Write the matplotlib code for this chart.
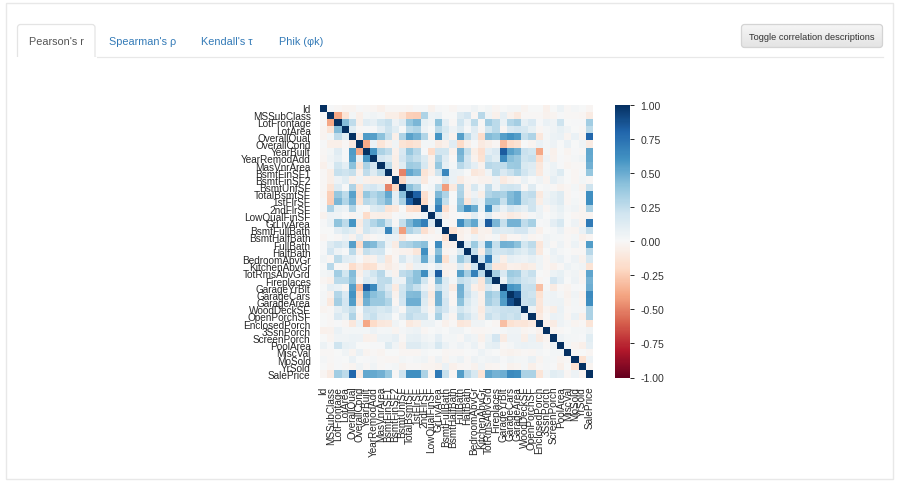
import matplotlib
matplotlib.use("Agg")
import matplotlib.pyplot as plt
from matplotlib.patches import FancyBboxPatch, Rectangle
import numpy as np

plt.rcParams["font.family"] = ["Liberation Sans", "DejaVu Sans"]

W, H = 900, 485

labels = ["Id", "MSSubClass", "LotFrontage", "LotArea", "OverallQual", "OverallCond", "YearBuilt",
          "YearRemodAdd", "MasVnrArea", "BsmtFinSF1", "BsmtFinSF2", "BsmtUnfSF", "TotalBsmtSF",
          "1stFlrSF", "2ndFlrSF", "LowQualFinSF", "GrLivArea", "BsmtFullBath", "BsmtHalfBath",
          "FullBath", "HalfBath", "BedroomAbvGr", "KitchenAbvGr", "TotRmsAbvGrd", "Fireplaces",
          "GarageYrBlt", "GarageCars", "GarageArea", "WoodDeckSF", "OpenPorchSF", "EnclosedPorch",
          "3SsnPorch", "ScreenPorch", "PoolArea", "MiscVal", "MoSold", "YrSold", "SalePrice"]
tabs = ["Pearson's r", "Spearman's ρ", "Kendall's τ", "Phik (φk)"]
button_text = "Toggle correlation descriptions"
cbar_ticks = [-1.0, -0.75, -0.5, -0.25, 0.0, 0.25, 0.5, 0.75, 1.0]

# upper triangle, each row starts right after the diagonal
r_id = [.01, -.01, -.03, -.03, .01, -.01, -.02, -.05, -.01, -.01, -.01, -.02, .01, .01, -.04, .01, .00, -.02, .01, .01, .04, .00, .03, -.02, .00, .02, .02, -.03, .00, .00, -.05, .00, .06, -.01, .02, .00, -.02]
r_mssub = [-.39, -.14, .03, -.06, .03, .04, .02, -.07, -.07, -.14, -.24, -.25, .31, .05, .07, .00, .00, .13, .18, -.02, .28, .04, -.05, .09, -.04, -.10, -.01, -.01, -.01, -.04, -.03, .01, -.01, -.01, -.02, -.08]
r_lotfr = [.43, .25, -.06, .12, .09, .19, .23, .05, .13, .39, .46, .08, .04, .40, .10, -.01, .20, .05, .26, -.01, .35, .27, .07, .29, .34, .09, .15, .01, .07, .04, .21, .00, .01, .01, .35]
r_lotar = [.11, -.01, .01, .01, .10, .21, .11, .00, .26, .30, .05, .00, .26, .16, .05, .13, .01, .12, -.02, .19, .27, -.02, .15, .18, .17, .08, -.02, .02, .04, .08, .04, .00, -.01, .26]
r_oqual = [-.09, .57, .55, .41, .24, -.06, .31, .54, .48, .30, -.03, .59, .11, -.04, .55, .27, .10, -.18, .43, .40, .55, .60, .56, .24, .31, -.11, .03, .06, .07, -.03, .07, -.03, .79]
r_ocond = [-.38, .07, -.13, -.05, .04, -.14, -.17, -.14, .03, .03, -.08, -.05, .12, -.19, -.06, .01, -.09, -.06, -.02, -.32, -.19, -.15, .00, -.03, .07, .03, .05, .00, .07, .00, .04, -.08]
r_ybuilt = [.59, .32, .25, -.05, .15, .39, .28, .01, -.18, .20, .19, -.04, .47, .24, -.07, -.17, .10, .15, .83, .54, .48, .22, .19, -.39, .03, -.05, .00, -.03, .01, -.01, .52]
r_yremod = [.18, .13, -.07, .18, .29, .24, .14, -.06, .29, .12, -.01, .44, .18, -.04, -.15, .19, .11, .64, .42, .37, .21, .23, -.19, .05, -.04, .01, -.01, .02, .04, .51]
r_masvnr = [.26, -.07, .11, .36, .34, .17, -.07, .39, .09, .03, .28, .20, .10, -.04, .28, .25, .25, .36, .37, .16, .13, -.11, .02, .06, .01, -.03, -.01, -.01, .48]
r_fin1 = [-.05, -.50, .52, .45, -.14, -.06, .21, .65, .07, .06, .00, -.11, -.08, .04, .26, .15, .22, .30, .20, .11, -.10, .03, .06, .14, .00, -.02, .01, .39]
r_fin2 = [-.21, .10, .10, -.10, .01, -.01, .16, .07, -.08, -.03, -.02, -.04, -.04, .05, -.09, -.04, -.02, .07, .00, .04, -.03, .09, .04, .00, -.02, .03, -.01]
r_unf = [.42, .32, .00, .03, .24, -.42, -.10, .29, -.04, .17, .03, .25, .05, .19, .21, .18, -.01, .13, .00, .02, -.01, -.04, -.02, .03, -.04, .21]
r_totb = [.82, -.17, -.03, .45, .31, .00, .32, -.05, .05, -.07, .29, .34, .32, .43, .49, .23, .25, -.10, .04, .08, .13, -.02, .01, -.01, .61]
r_first = [-.20, -.01, .57, .24, .00, .38, -.12, .13, .07, .41, .41, .23, .44, .49, .24, .21, -.07, .06, .09, .13, -.02, .03, -.01, .61]
r_second = [.06, .69, -.17, -.02, .42, .61, .50, .06, .62, .19, .07, .18, .14, .09, .21, .06, -.02, .04, .08, .02, .04, -.03, .32]
r_lowq = [.13, -.05, -.01, .00, -.03, .11, .01, .13, -.02, -.04, -.09, -.07, -.03, .02, .06, .00, .03, .06, .00, -.02, -.03, -.03]
r_grliv = [.03, -.02, .63, .42, .52, .10, .83, .46, .23, .47, .47, .25, .33, .01, .02, .10, .17, .00, .05, -.04, .71]
r_bfull = [-.15, -.06, -.03, -.15, -.04, -.05, .14, .12, .13, .18, .18, .07, -.05, .00, .02, .07, -.02, -.03, .07, .23]
r_bhalf = [-.05, -.01, .05, -.04, -.02, .03, -.08, -.02, -.02, .04, -.03, -.01, .04, .03, .02, -.01, .03, -.05, -.02]
r_full = [.14, .36, .13, .55, .24, .48, .47, .41, .19, .26, -.12, .04, -.01, .05, -.01, .06, -.02, .56]
r_half = [.23, -.07, .34, .20, .20, .22, .16, .11, .20, -.10, .00, .07, .02, .00, -.01, -.01, .28]
r_bed = [.20, .68, .11, -.06, .09, .07, .05, .09, .04, -.02, .04, .07, .01, .05, -.04, .17]
r_kit = [.26, -.12, -.12, -.05, -.06, -.09, -.07, .04, -.02, -.05, -.01, .06, .03, .04, -.14]
r_rooms = [.33, .15, .36, .34, .17, .23, .00, -.01, .06, .08, .02, .04, -.03, .53]
r_fire = [.05, .30, .27, .20, .17, -.02, .01, .18, .10, .00, .05, -.02, .47]
r_gyb = [.59, .56, .22, .23, -.30, .02, -.08, -.01, -.03, .01, .00, .49]
r_gcars = [.88, .23, .21, -.15, .04, .05, .02, -.04, .04, -.04, .64]
r_garea = [.22, .24, -.12, .04, .05, .06, -.03, .03, -.03, .62]
r_wood = [.06, -.13, -.03, -.07, .07, -.01, .02, .02, .32]
r_open = [-.09, -.01, .07, .06, -.02, .07, -.06, .32]
r_encl = [-.04, -.08, .05, .02, -.03, -.01, -.13]
r_ssn = [-.03, -.01, .00, .03, .02, .04]
r_screen = [.05, .03, .02, .01, .11]
r_pool = [.03, -.03, -.06, .09]
r_misc = [-.01, .00, -.02]
r_mo = [-.15, .05]
r_yr = [-.03]

upper = [r_id, r_mssub, r_lotfr, r_lotar, r_oqual, r_ocond, r_ybuilt, r_yremod, r_masvnr, r_fin1, r_fin2,
         r_unf, r_totb, r_first, r_second, r_lowq, r_grliv, r_bfull, r_bhalf, r_full, r_half, r_bed, r_kit,
         r_rooms, r_fire, r_gyb, r_gcars, r_garea, r_wood, r_open, r_encl, r_ssn, r_screen, r_pool, r_misc,
         r_mo, r_yr]

n = len(labels)
corr = np.eye(n)
for i, row in enumerate(upper):
    corr[i, i + 1:] = row
    corr[i + 1:, i] = row


def px_axes(fig, x0, y0, x1, y1):
    # pixel box measured from the top left of the screenshot
    return fig.add_axes([x0 / W, 1 - y1 / H, (x1 - x0) / W, (y1 - y0) / H])


fig = plt.figure(figsize=(W / 100, H / 100), dpi=100, facecolor="white")

# page chrome in pixel coordinates
page = fig.add_axes([0, 0, 1, 1])
page.axis("off")
page.add_patch(Rectangle((6.3, 3.5), 887, 476, fc="white", ec="#e8e8e8", lw=1.0))
page.plot([95, 883], [57.5, 57.5], color="#e8e8e8", lw=0.9)
page.add_patch(FancyBboxPatch((17.5, 25.5), 77.5, 40, boxstyle="round,pad=0,rounding_size=3",
                              fc="white", ec="#e4e4e4", lw=0.9, zorder=2))
page.add_patch(Rectangle((16, 58), 80.5, 9, fc="white", ec="none", zorder=3))
# button with a soft vertical gradient
btn = FancyBboxPatch((741.5, 25.5), 141, 23, boxstyle="round,pad=0,rounding_size=3",
                     fc="none", ec="#d4d4d4", lw=0.9, zorder=3)
page.add_patch(btn)
grad = page.imshow(np.linspace(0.96, 0.89, 24).reshape(-1, 1), cmap="gray", vmin=0, vmax=1,
                   extent=(741.5, 882.5, 48.5, 25.5), aspect="auto", zorder=2)
grad.set_clip_path(btn)
page.set_xlim(0, W)
page.set_ylim(H, 0)
tab_x = [29, 109, 201, 279]
for i, (t, x) in enumerate(zip(tabs, tab_x)):
    page.text(x, 42, t, fontsize=7.8, color="#555555" if i == 0 else "#337ab7", va="center", ha="left", zorder=4)
page.text(812, 37, button_text, fontsize=6.7, color="#333333", ha="center", va="center", zorder=4)

# heatmap
ax = px_axes(fig, 320, 105.5, 593, 378.5)
mesh = ax.pcolormesh(corr, cmap="RdBu", vmin=-1, vmax=1)
ax.set_xlim(0, n)
ax.set_ylim(n, 0)
ax.set_xticks(np.arange(n) + 0.5)
ax.set_yticks(np.arange(n) + 0.5)
ax.set_xticklabels(labels, rotation=90, fontsize=7.2, color="#262626")
ax.set_yticklabels(labels, fontsize=7.2, color="#262626")
ax.tick_params(length=0)
ax.tick_params(axis="x", pad=6)
ax.tick_params(axis="y", pad=6.8)
for s in ax.spines.values():
    s.set_visible(False)

# colorbar
cax = px_axes(fig, 615.3, 105.5, 629.5, 378.5)
cbar = fig.colorbar(mesh, cax=cax, ticks=cbar_ticks)
cbar.ax.set_yticklabels(["%.2f" % v for v in cbar_ticks])
cbar.ax.tick_params(labelsize=7.6, labelcolor="#333333", length=3, width=0.7, pad=4.7, color="#262626")
cbar.outline.set_visible(False)

fig.savefig("out.png", dpi=100, facecolor="white")
